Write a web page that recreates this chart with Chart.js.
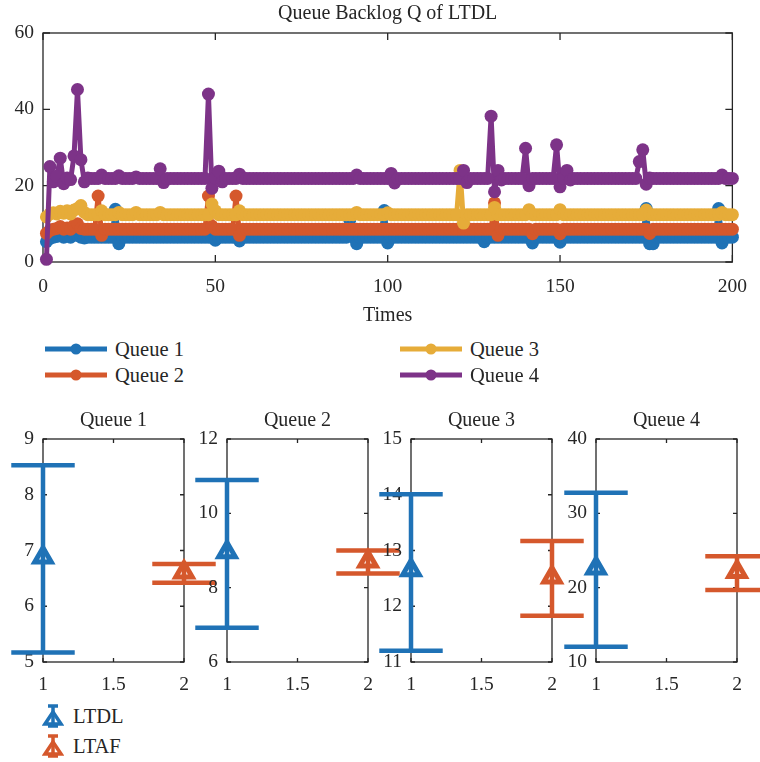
<!DOCTYPE html>
<html>
<head>
<meta charset="utf-8">
<script src="https://cdn.jsdelivr.net/npm/chart.js@4.4.1/dist/chart.umd.min.js"></script>
<style>
  html, body { margin: 0; padding: 0; background: #ffffff; }
  #page { position: relative; width: 760px; height: 762px; overflow: hidden;
          font-family: "Liberation Serif", "DejaVu Serif", serif; color: #262626; }
  #page canvas { position: absolute; }
  .leg { position: absolute; display: flex; align-items: center; height: 26px;
         font-size: 20.5px; line-height: 1; white-space: nowrap; }
  .leg svg { display: block; }
</style>
</head>
<body>
<div id="page">
  <canvas id="backlog" width="760" height="332" style="left:0px;top:0px"></canvas>
  <canvas id="panel0" width="229" height="300" style="left:0px;top:400px"></canvas>
  <canvas id="panel1" width="229" height="300" style="left:184px;top:400px"></canvas>
  <canvas id="panel2" width="229" height="300" style="left:368px;top:400px"></canvas>
  <canvas id="panel3" width="229" height="300" style="left:553px;top:400px"></canvas>
  <div id="legendTop"></div>
  <div id="legendBottom"></div>
</div>
<script>
// ---- queue backlog over time (one value per time step, t = 1..200) ----
const times = Array.from({ length: 200 }, (_, i) => i + 1);

const queue1 = [
  5.3, 6.2, 6.5, 6.7, 7.2, 6.5, 6.8, 6.5, 7.4, 7.0, 6.5, 6.3, 6.5, 6.5, 6.5, 6.5, 6.5, 6.5, 6.5, 6.5,
  13.8, 4.8, 6.5, 6.5, 6.5, 6.5, 6.5, 6.5, 6.5, 6.5, 6.5, 6.5, 6.5, 6.5, 6.5, 6.5, 6.5, 6.5, 6.5, 6.5,
  6.5, 6.5, 6.5, 6.5, 6.5, 6.5, 6.5, 6.5, 6.5, 5.7, 6.5, 6.5, 6.5, 6.5, 6.5, 6.5, 5.5, 6.5, 6.5, 6.5,
  6.5, 6.5, 6.5, 6.5, 6.5, 6.5, 6.5, 6.5, 6.5, 6.5, 6.5, 6.5, 6.5, 6.5, 6.5, 6.5, 6.5, 6.5, 6.5, 6.5,
  6.5, 6.5, 6.5, 6.5, 6.5, 6.5, 6.5, 6.5, 11.0, 6.5, 4.8, 6.5, 6.5, 6.5, 6.5, 6.5, 6.5, 6.5, 13.5, 5.0,
  6.5, 6.5, 6.5, 6.5, 6.5, 6.5, 6.5, 6.5, 6.5, 6.5, 6.5, 6.5, 6.5, 6.5, 6.5, 6.5, 6.5, 6.5, 6.5, 6.5,
  6.5, 6.5, 6.5, 6.5, 6.5, 6.5, 6.5, 5.3, 6.5, 6.5, 6.5, 6.5, 6.5, 6.5, 6.5, 6.5, 6.5, 6.5, 6.5, 6.5,
  6.5, 5.0, 6.5, 6.5, 6.5, 6.5, 6.5, 6.5, 6.5, 5.2, 6.5, 6.5, 6.5, 6.5, 6.5, 6.5, 6.5, 6.5, 6.5, 6.5,
  6.5, 6.5, 6.5, 6.5, 6.5, 6.5, 6.5, 6.5, 6.5, 6.5, 6.5, 6.5, 6.5, 6.5, 14.0, 4.8, 4.8, 6.5, 6.5, 6.5,
  6.5, 6.5, 6.5, 6.5, 6.5, 6.5, 6.5, 6.5, 6.5, 6.5, 6.5, 6.5, 6.5, 6.5, 6.5, 14.0, 5.0, 6.5, 6.5, 6.5
];

const queue2 = [
  7.5, 8.3, 8.6, 8.8, 9.3, 8.6, 8.9, 8.6, 9.6, 10.0, 8.8, 8.6, 8.6, 8.6, 8.6, 17.3, 7.0, 8.6, 8.6, 8.6,
  8.6, 8.6, 8.6, 8.6, 8.6, 8.6, 8.6, 8.6, 8.6, 8.6, 8.6, 8.6, 8.6, 8.6, 8.6, 8.6, 8.6, 8.6, 8.6, 8.6,
  8.6, 8.6, 8.6, 8.6, 8.6, 8.6, 8.6, 17.3, 9.4, 8.6, 8.6, 8.6, 8.6, 8.6, 8.6, 17.3, 7.0, 8.6, 8.6, 8.6,
  8.6, 8.6, 8.6, 8.6, 8.6, 8.6, 8.6, 8.6, 8.6, 8.6, 8.6, 8.6, 8.6, 8.6, 8.6, 8.6, 8.6, 8.6, 8.6, 8.6,
  8.6, 8.6, 8.6, 8.6, 8.6, 8.6, 8.6, 8.6, 8.6, 8.6, 8.6, 8.6, 8.6, 8.6, 8.6, 8.6, 8.6, 8.6, 8.6, 8.6,
  8.6, 8.6, 8.6, 8.6, 8.6, 8.6, 8.6, 8.6, 8.6, 8.6, 8.6, 8.6, 8.6, 8.6, 8.6, 8.6, 8.6, 8.6, 8.6, 8.6,
  8.6, 8.6, 8.6, 8.6, 8.6, 8.6, 8.6, 8.6, 8.6, 8.6, 15.5, 7.0, 8.6, 8.6, 8.6, 8.6, 8.6, 8.6, 8.6, 8.6,
  8.6, 7.4, 8.6, 8.6, 8.6, 8.6, 8.6, 8.6, 8.6, 7.4, 8.6, 8.6, 8.6, 8.6, 8.6, 8.6, 8.6, 8.6, 8.6, 8.6,
  8.6, 8.6, 8.6, 8.6, 8.6, 8.6, 8.6, 8.6, 8.6, 8.6, 8.6, 8.6, 8.6, 8.6, 8.6, 7.5, 8.6, 8.6, 8.6, 8.6,
  8.6, 8.6, 8.6, 8.6, 8.6, 8.6, 8.6, 8.6, 8.6, 8.6, 8.6, 8.6, 8.6, 8.6, 8.6, 8.6, 8.6, 8.6, 8.6, 8.6
];

const queue3 = [
  11.8, 12.6, 12.9, 12.6, 13.3, 12.8, 13.4, 12.6, 13.6, 14.0, 14.8, 13.0, 12.4, 12.4, 12.4, 12.4, 13.4, 12.4, 12.4, 12.4,
  12.4, 13.0, 12.4, 12.4, 12.4, 12.4, 13.0, 12.4, 12.4, 12.4, 12.4, 12.4, 12.4, 13.0, 12.4, 12.4, 12.4, 12.4, 12.4, 12.4,
  12.4, 12.4, 12.4, 12.4, 12.4, 12.4, 12.4, 12.4, 15.2, 13.4, 12.4, 12.4, 12.4, 12.4, 12.4, 12.4, 13.4, 12.4, 12.4, 12.4,
  12.4, 12.4, 12.4, 12.4, 12.4, 12.4, 12.4, 12.4, 12.4, 12.4, 12.4, 12.4, 12.4, 12.4, 12.4, 12.4, 12.4, 12.4, 12.4, 12.4,
  12.4, 12.4, 12.4, 12.4, 12.4, 12.4, 12.4, 12.4, 12.4, 12.4, 13.0, 12.4, 12.4, 12.4, 12.4, 12.4, 12.4, 12.4, 12.4, 12.9,
  12.4, 12.4, 12.4, 12.4, 12.4, 12.4, 12.4, 12.4, 12.4, 12.4, 12.4, 12.4, 12.4, 12.4, 12.4, 12.4, 12.4, 12.4, 12.4, 12.4,
  24.0, 10.2, 12.4, 12.4, 12.4, 12.4, 12.4, 12.4, 12.4, 12.4, 14.3, 12.4, 12.4, 12.4, 12.4, 12.4, 12.4, 12.4, 12.4, 12.4,
  13.7, 12.4, 12.4, 12.4, 12.4, 12.4, 12.4, 12.4, 12.4, 13.7, 12.4, 12.4, 12.4, 12.4, 12.4, 12.4, 12.4, 12.4, 12.4, 12.4,
  12.4, 12.4, 12.4, 12.4, 12.4, 12.4, 12.4, 12.4, 12.4, 12.4, 12.4, 12.4, 12.4, 12.4, 13.6, 12.4, 12.4, 12.4, 12.4, 12.4,
  12.4, 12.4, 12.4, 12.4, 12.4, 12.4, 12.4, 12.4, 12.4, 12.4, 12.4, 12.4, 12.4, 12.4, 12.4, 12.4, 13.0, 12.4, 12.4, 12.4
];

const queue4 = [
  0.7, 25.0, 21.0, 22.5, 27.2, 20.5, 22.0, 21.6, 27.8, 45.2, 26.8, 21.0, 22.0, 21.9, 21.9, 21.9, 22.8, 21.9, 21.9, 21.9,
  21.9, 22.6, 21.9, 21.9, 21.9, 21.9, 22.3, 21.9, 21.9, 21.9, 21.9, 21.9, 21.9, 24.4, 20.8, 21.9, 21.9, 21.9, 21.9, 21.9,
  21.9, 21.9, 21.9, 21.9, 21.9, 21.9, 21.9, 44.0, 19.3, 22.0, 23.8, 21.0, 21.9, 21.9, 21.9, 21.9, 23.0, 21.9, 21.9, 21.9,
  21.9, 21.9, 21.9, 21.9, 21.9, 21.9, 21.9, 21.9, 21.9, 21.9, 21.9, 21.9, 21.9, 21.9, 21.9, 21.9, 21.9, 21.9, 21.9, 21.9,
  21.9, 21.9, 21.9, 21.9, 21.9, 21.9, 21.9, 21.9, 21.9, 21.9, 22.8, 21.9, 21.9, 21.9, 21.9, 21.9, 21.9, 21.9, 21.9, 21.9,
  23.2, 20.7, 21.9, 21.9, 21.9, 21.9, 21.9, 21.9, 21.9, 21.9, 21.9, 21.9, 21.9, 21.9, 21.9, 21.9, 21.9, 21.9, 21.9, 21.9,
  21.9, 24.0, 20.8, 21.9, 21.9, 21.9, 21.9, 21.9, 21.9, 38.2, 18.4, 24.0, 21.5, 21.9, 21.9, 21.9, 21.9, 21.9, 21.9, 29.8,
  20.0, 21.9, 21.9, 21.9, 21.9, 21.9, 21.9, 21.9, 30.7, 19.7, 22.0, 24.0, 21.5, 21.9, 21.9, 21.9, 21.9, 21.9, 21.9, 21.9,
  21.9, 21.9, 21.9, 21.9, 21.9, 21.9, 21.9, 21.9, 21.9, 21.9, 21.9, 21.9, 26.3, 29.4, 20.4, 22.0, 21.9, 21.9, 21.9, 21.9,
  21.9, 21.9, 21.9, 21.9, 21.9, 21.9, 21.9, 21.9, 21.9, 21.9, 21.9, 21.9, 21.9, 21.9, 21.9, 21.9, 22.8, 21.9, 21.9, 21.9
];

const seriesNames = ['Queue 1', 'Queue 2', 'Queue 3', 'Queue 4'];
const seriesValues = [queue1, queue2, queue3, queue4];

// ---- per-queue comparison: mean with lower / upper error limits ----
const methods = ['LTDL', 'LTAF'];
const ltdlMean = [6.88, 8.96, 12.65, 22.6];
const ltdlLow  = [5.17, 6.92, 11.2, 12.05];
const ltdlHigh = [8.53, 10.9, 14.01, 32.76];
const ltafMean = [6.61, 8.71, 12.52, 22.13];
const ltafLow  = [6.42, 8.38, 11.83, 19.7];
const ltafHigh = [6.76, 9.0, 13.17, 24.23];

// axis limits / tick steps of the four small panels
const panelYMin  = [5, 6, 11, 10];
const panelYMax  = [9, 12, 15, 40];
const panelYStep = [1, 2, 1, 10];

// ---- styling ----
const COLORS = ['#1F72B6', '#D5582C', '#E6AC39', '#7D3388'];
const AXIS = '#262626';
const SERIF = '"Liberation Serif", "DejaVu Serif", serif';
const FONT = { family: SERIF, size: 20, weight: 'normal' };
const TICK_FONT = { family: SERIF, size: 19.5, weight: 'normal' };
const plainNumber = v => String(v);

// box around the plot area with inward tick marks on all four sides
const boxTicks = {
  id: 'boxTicks',
  beforeDatasetsDraw(chart, args, opts) {
    const { ctx, chartArea: a, scales } = chart;
    const len = opts.length || 6;
    ctx.save();
    ctx.strokeStyle = AXIS;
    ctx.lineWidth = 1.3;
    ctx.strokeRect(a.left, a.top, a.right - a.left, a.bottom - a.top);
    ctx.beginPath();
    scales.x.ticks.forEach(t => {
      const px = scales.x.getPixelForValue(t.value);
      ctx.moveTo(px, a.bottom); ctx.lineTo(px, a.bottom - len);
      ctx.moveTo(px, a.top);    ctx.lineTo(px, a.top + len);
    });
    scales.y.ticks.forEach(t => {
      const py = scales.y.getPixelForValue(t.value);
      ctx.moveTo(a.left, py);  ctx.lineTo(a.left + len, py);
      ctx.moveTo(a.right, py); ctx.lineTo(a.right - len, py);
    });
    ctx.stroke();
    ctx.restore();
  }
};

// vertical error bars with caps, drawn from yMin / yMax of each point
const errorBars = {
  id: 'errorBars',
  beforeDatasetsDraw(chart, args, opts) {
    const { ctx, scales: { x, y } } = chart;
    ctx.save();
    ctx.lineWidth = opts.width;
    ctx.lineCap = 'butt';
    chart.data.datasets.forEach(ds => {
      ctx.strokeStyle = ds.borderColor;
      ds.data.forEach(p => {
        const cx = x.getPixelForValue(p.x);
        const x0 = x.getPixelForValue(p.x - opts.cap);
        const x1 = x.getPixelForValue(p.x + opts.cap);
        const yl = y.getPixelForValue(p.yMin);
        const yh = y.getPixelForValue(p.yMax);
        ctx.beginPath();
        ctx.moveTo(cx, yl); ctx.lineTo(cx, yh);
        ctx.moveTo(x0, yl); ctx.lineTo(x1, yl);
        ctx.moveTo(x0, yh); ctx.lineTo(x1, yh);
        ctx.stroke();
      });
    });
    ctx.restore();
  }
};

// ---- top: backlog time series ----
new Chart(document.getElementById('backlog'), {
  type: 'line',
  data: {
    datasets: seriesValues.map((vals, i) => ({
      label: seriesNames[i],
      data: vals.map((v, k) => ({ x: times[k], y: v })),
      borderColor: COLORS[i],
      backgroundColor: COLORS[i],
      borderWidth: 5,
      borderJoinStyle: 'round',
      borderCapStyle: 'round',
      pointRadius: 6.5,
      pointBorderWidth: 0,
      pointHoverRadius: 6.5,
      tension: 0,
      clip: false,
      order: 4 - i
    }))
  },
  options: {
    responsive: false,
    animation: false,
    events: [],
    layout: { padding: { left: 0, right: 25, top: 0, bottom: 0 } },
    plugins: {
      legend: { display: false },
      tooltip: { enabled: false },
      title: {
        display: true, fullSize: false, text: 'Queue Backlog Q of LTDL',
        color: AXIS, font: FONT, padding: { top: 2, bottom: 7 }
      },
      boxTicks: { length: 7 }
    },
    scales: {
      x: {
        type: 'linear', min: 0, max: 200,
        grid: { display: false, drawTicks: false },
        border: { display: false },
        ticks: { stepSize: 50, color: AXIS, font: TICK_FONT, padding: 13, maxRotation: 0, callback: plainNumber },
        title: { display: true, text: 'Times', color: AXIS, font: FONT, padding: { top: 0, bottom: 4 } },
        afterFit(s) { s.height = 70; }
      },
      y: {
        min: 0, max: 60,
        grid: { display: false, drawTicks: false },
        border: { display: false },
        ticks: { stepSize: 20, color: AXIS, font: TICK_FONT, padding: 9, callback: plainNumber },
        afterFit(s) { s.width = 43; }
      }
    }
  },
  plugins: [boxTicks]
});

// ---- bottom: four error-bar panels ----
for (let k = 0; k < 4; k++) {
  new Chart(document.getElementById('panel' + k), {
    type: 'scatter',
    data: {
      datasets: [
        { label: methods[0], data: [{ x: 1, y: ltdlMean[k], yMin: ltdlLow[k], yMax: ltdlHigh[k] }] },
        { label: methods[1], data: [{ x: 2, y: ltafMean[k], yMin: ltafLow[k], yMax: ltafHigh[k] }] }
      ].map((ds, i) => Object.assign(ds, {
        borderColor: COLORS[i],
        backgroundColor: 'rgba(255,255,255,0)',
        pointStyle: 'triangle',
        pointRadius: 9.5,
        pointHoverRadius: 9.5,
        pointBorderWidth: 5,
        clip: false
      }))
    },
    options: {
      responsive: false,
      animation: false,
      events: [],
      layout: { padding: { left: 0, right: 45, top: 0, bottom: 0 } },
      plugins: {
        legend: { display: false },
        tooltip: { enabled: false },
        title: {
          display: true, fullSize: false, text: seriesNames[k],
          color: AXIS, font: FONT, padding: { top: 9, bottom: 6 }
        },
        boxTicks: { length: 4 },
        errorBars: { cap: 0.225, width: 4.5 }
      },
      scales: {
        x: {
          type: 'linear', min: 1, max: 2,
          grid: { display: false, drawTicks: false },
          border: { display: false },
          ticks: { stepSize: 0.5, color: AXIS, font: TICK_FONT, padding: 11, maxRotation: 0, callback: plainNumber },
          afterFit(s) { s.height = 38; }
        },
        y: {
          min: panelYMin[k], max: panelYMax[k],
          grid: { display: false, drawTicks: false },
          border: { display: false },
          ticks: { stepSize: panelYStep[k], color: AXIS, font: TICK_FONT, padding: 9, callback: plainNumber },
          afterFit(s) { s.width = 43; }
        }
      }
    },
    plugins: [boxTicks, errorBars]
  });
}

// ---- legends ----
const legendTop = document.getElementById('legendTop');
const topSlots = [[45, 349], [45, 375], [400, 349], [400, 375]];
seriesNames.forEach((name, i) => {
  const item = document.createElement('div');
  item.className = 'leg';
  item.style.left = topSlots[i][0] + 'px';
  item.style.top = (topSlots[i][1] - 13) + 'px';
  item.innerHTML =
    '<svg width="62" height="26"><line x1="0" y1="13" x2="62" y2="13" stroke="' + COLORS[i] +
    '" stroke-width="5"/><circle cx="31" cy="13" r="5.5" fill="' + COLORS[i] + '"/></svg>' +
    '<span style="margin-left:8px">' + name + '</span>';
  legendTop.appendChild(item);
});

const legendBottom = document.getElementById('legendBottom');
const bottomSlots = [[42, 716], [42, 746]];
methods.forEach((name, i) => {
  const c = COLORS[i];
  const item = document.createElement('div');
  item.className = 'leg';
  item.style.left = bottomSlots[i][0] + 'px';
  item.style.top = (bottomSlots[i][1] - 13) + 'px';
  item.innerHTML =
    '<svg width="22" height="26">' +
    '<line x1="11" y1="3" x2="11" y2="23" stroke="' + c + '" stroke-width="3.5"/>' +
    '<line x1="6" y1="3" x2="16" y2="3" stroke="' + c + '" stroke-width="3.5"/>' +
    '<line x1="6" y1="23" x2="16" y2="23" stroke="' + c + '" stroke-width="3.5"/>' +
    '<polygon points="11,9 19,21 3,21" fill="none" stroke="' + c + '" stroke-width="3.5" stroke-linejoin="miter"/>' +
    '</svg>' +
    '<span style="margin-left:9px">' + name + '</span>';
  legendBottom.appendChild(item);
});
</script>
</body>
</html>
